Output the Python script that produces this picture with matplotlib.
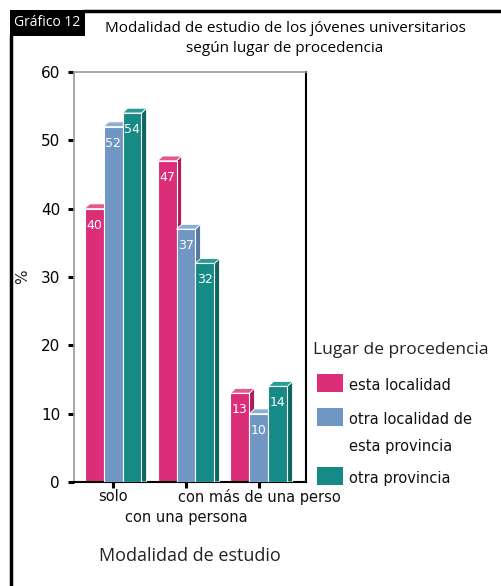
import matplotlib
matplotlib.use("Agg")
import matplotlib.pyplot as plt
from matplotlib.patches import Polygon, Rectangle
import numpy as np

categories = ["solo", "con una persona", "con más de una perso"]
series_names = ["esta localidad", "otra localidad de\nesta provincia", "otra provincia"]
values = {
    "esta localidad": [40, 47, 13],
    "otra localidad de\nesta provincia": [52, 37, 10],
    "otra provincia": [54, 32, 14],
}
yticks = [0, 10, 20, 30, 40, 50, 60]

front_colors = ["#DB2D78", "#7096C3", "#158A86"]
side_colors = ["#A81F5B", "#55799F", "#0E6663"]
top_colors = ["#E4578F", "#8DAED3", "#2A9C97"]

W, H = 501, 586
fig = plt.figure(figsize=(W / 100, H / 100), dpi=100)
ax = fig.add_axes([74 / W, 1 - 482 / H, (306 - 74) / W, (482 - 72) / H])

bw = 0.26
dx, dy = 0.07, 0.7
x = np.arange(len(categories))
for i, name in enumerate(series_names):
    vals = values[name]
    offs = (i - 1) * bw
    for xi, v in zip(x, vals):
        x0 = xi + offs - bw / 2
        x1 = x0 + bw
        ax.add_patch(Polygon([(x1, 0), (x1, v), (x1 + dx, v + dy), (x1 + dx, 0)],
                             closed=True, facecolor=side_colors[i], edgecolor="white",
                             lw=0.6, zorder=2 + i))
        ax.add_patch(Polygon([(x0, v), (x0 + dx, v + dy), (x1 + dx, v + dy), (x1, v)],
                             closed=True, facecolor=top_colors[i], edgecolor="white",
                             lw=0.6, zorder=2 + i))
    ax.bar(x + offs, vals, width=bw, color=front_colors[i], edgecolor="white",
           linewidth=0.8, zorder=2.5 + i)
    for xi, v in zip(x, vals):
        ax.text(xi + offs, v - 2.4, f"{v}", ha="center", va="center", color="white",
                fontsize=9, zorder=10)

ax.set_xlim(-0.535, 2.645)
ax.set_ylim(0, 60)
ax.set_yticks(yticks)
ax.set_yticklabels([str(t) for t in yticks], fontsize=11)
ax.set_xticks(x)
ax.set_xticklabels([])
for xi, lab in zip(x, categories):
    yoff = -0.036 if xi != 1 else -0.087
    ax.text(xi, yoff, lab, transform=ax.get_xaxis_transform(), ha="center", va="center",
            fontsize=10.5, color="#111111")
ax.tick_params(axis="both", direction="out", length=4, width=2.2, color="black", pad=6)
for s in ["left", "top"]:
    ax.spines[s].set_color("#999999")
    ax.spines[s].set_linewidth(1.2)
for s in ["right", "bottom"]:
    ax.spines[s].set_color("black")
    ax.spines[s].set_linewidth(1.5)

fig.text(190 / W, 1 - 556 / H, "Modalidad de estudio", ha="center", va="center",
         fontsize=13, family="Open Sans", color="#222222")
fig.text(23 / W, 1 - 277 / H, "%", ha="center", va="center", rotation=90,
         fontsize=11, color="#222222")

# title
fig.text(285 / W, 1 - 28 / H, "Modalidad de estudio de los jóvenes universitarios",
         ha="center", va="center", fontsize=11, family="Open Sans")
fig.text(285 / W, 1 - 48 / H, "según lugar de procedencia",
         ha="center", va="center", fontsize=11, family="Open Sans")

# frame
fig.add_artist(plt.Line2D([85 / W, 1], [1 - 11 / H] * 2, color="black", lw=2.5))
fig.add_artist(plt.Line2D([11 / W] * 2, [1 - 36 / H, 0], color="black", lw=2.5))
fig.add_artist(Rectangle((10 / W, 1 - 36 / H), 75 / W, 26 / H, facecolor="black",
                         edgecolor="none", transform=fig.transFigure))
fig.text(47.5 / W, 1 - 23 / H, "Gráfico 12", ha="center", va="center", color="white",
         fontsize=10, family="Open Sans")

# legend
fig.text(313 / W, 1 - 350 / H, "Lugar de procedencia", ha="left", va="center",
         fontsize=12.5, family="Open Sans", color="#222222")
leg_y = [383, 417, 476]
for i, name in enumerate(series_names):
    yc = leg_y[i]
    fig.add_artist(Rectangle((317 / W, 1 - (yc + 9) / H), 26 / W, 18 / H,
                             facecolor=front_colors[i], edgecolor="none",
                             transform=fig.transFigure))
    for k, line in enumerate(name.split("\n")):
        fig.text(349 / W, 1 - (yc + 3 + 26 * k) / H, line, ha="left", va="center",
                 fontsize=10.5, color="#111111")

fig.savefig("out.png", dpi=100)
